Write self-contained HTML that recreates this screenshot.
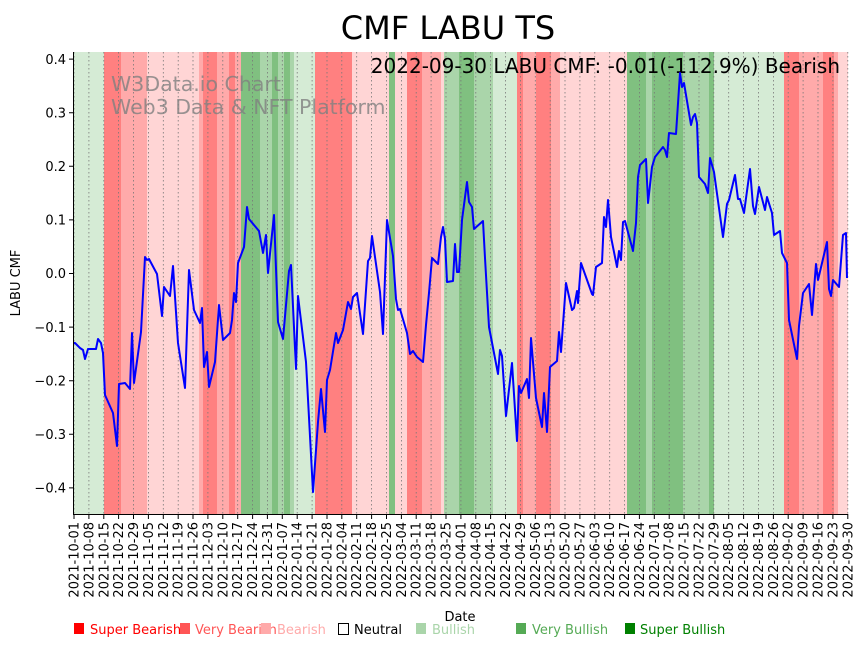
<!DOCTYPE html>
<html><head><meta charset="utf-8"><style>
html,body{margin:0;padding:0;background:#fff;}
svg{display:block;font-family:"DejaVu Sans","Liberation Sans",sans-serif;}
</style></head><body>
<svg width="864" height="646" viewBox="0 0 864 646" xmlns="http://www.w3.org/2000/svg">
<rect width="864" height="646" fill="#fff"/>
<text x="448" y="39" font-size="32" text-anchor="middle" fill="#000">CMF LABU TS</text>
<g>
<rect x="74" y="52" width="30" height="462" fill="#d5ebd5"/>
<rect x="104" y="52" width="17" height="462" fill="#ff8080"/>
<rect x="121" y="52" width="26" height="462" fill="#ffaaaa"/>
<rect x="147" y="52" width="52" height="462" fill="#ffd5d5"/>
<rect x="199" y="52" width="4" height="462" fill="#ffaaaa"/>
<rect x="203" y="52" width="14" height="462" fill="#ff8080"/>
<rect x="217" y="52" width="12" height="462" fill="#ffaaaa"/>
<rect x="229" y="52" width="6" height="462" fill="#ff8080"/>
<rect x="235" y="52" width="6" height="462" fill="#ffaaaa"/>
<rect x="241" y="52" width="19" height="462" fill="#80c080"/>
<rect x="260" y="52" width="12" height="462" fill="#aad5aa"/>
<rect x="272" y="52" width="6" height="462" fill="#80c080"/>
<rect x="278" y="52" width="6" height="462" fill="#aad5aa"/>
<rect x="284" y="52" width="6" height="462" fill="#80c080"/>
<rect x="290" y="52" width="4" height="462" fill="#aad5aa"/>
<rect x="294" y="52" width="21" height="462" fill="#d5ebd5"/>
<rect x="315" y="52" width="37" height="462" fill="#ff8080"/>
<rect x="352" y="52" width="37" height="462" fill="#ffd5d5"/>
<rect x="389" y="52" width="6" height="462" fill="#80c080"/>
<rect x="395" y="52" width="12" height="462" fill="#ffd5d5"/>
<rect x="407" y="52" width="15" height="462" fill="#ff8080"/>
<rect x="422" y="52" width="19" height="462" fill="#ffaaaa"/>
<rect x="441" y="52" width="3" height="462" fill="#ffd5d5"/>
<rect x="444" y="52" width="15" height="462" fill="#aad5aa"/>
<rect x="459" y="52" width="15" height="462" fill="#80c080"/>
<rect x="474" y="52" width="19" height="462" fill="#aad5aa"/>
<rect x="493" y="52" width="24" height="462" fill="#d5ebd5"/>
<rect x="517" y="52" width="6" height="462" fill="#ff8080"/>
<rect x="523" y="52" width="13" height="462" fill="#ffaaaa"/>
<rect x="536" y="52" width="15" height="462" fill="#ff8080"/>
<rect x="551" y="52" width="9" height="462" fill="#ffaaaa"/>
<rect x="560" y="52" width="67" height="462" fill="#ffd5d5"/>
<rect x="627" y="52" width="19" height="462" fill="#80c080"/>
<rect x="646" y="52" width="6" height="462" fill="#aad5aa"/>
<rect x="652" y="52" width="31" height="462" fill="#80c080"/>
<rect x="683" y="52" width="26" height="462" fill="#aad5aa"/>
<rect x="709" y="52" width="5" height="462" fill="#80c080"/>
<rect x="714" y="52" width="70" height="462" fill="#d5ebd5"/>
<rect x="784" y="52" width="15" height="462" fill="#ff8080"/>
<rect x="799" y="52" width="24" height="462" fill="#ffaaaa"/>
<rect x="823" y="52" width="11" height="462" fill="#ff8080"/>
<rect x="834" y="52" width="4" height="462" fill="#ffaaaa"/>
<rect x="838" y="52" width="10" height="462" fill="#ffd5d5"/>
</g>
<g stroke="#777" stroke-width="0.8" stroke-dasharray="1.5,2.5" fill="none">
<path d="M74.0 52V514M88.9 52V514M103.8 52V514M118.6 52V514M133.5 52V514M148.4 52V514M163.3 52V514M178.2 52V514M193.0 52V514M207.9 52V514M222.8 52V514M237.7 52V514M252.6 52V514M267.4 52V514M282.3 52V514M297.2 52V514M312.1 52V514M327.0 52V514M341.8 52V514M356.7 52V514M371.6 52V514M386.5 52V514M401.4 52V514M416.2 52V514M431.1 52V514M446.0 52V514M460.9 52V514M475.8 52V514M490.6 52V514M505.5 52V514M520.4 52V514M535.3 52V514M550.2 52V514M565.0 52V514M579.9 52V514M594.8 52V514M609.7 52V514M624.6 52V514M639.4 52V514M654.3 52V514M669.2 52V514M684.1 52V514M699.0 52V514M713.8 52V514M728.7 52V514M743.6 52V514M758.5 52V514M773.4 52V514M788.2 52V514M803.1 52V514M818.0 52V514M832.9 52V514M847.8 52V514"/>
</g>
<text x="111" y="91" font-size="20.5" fill="#808080" fill-opacity="0.8">W3Data.io Chart</text>
<text x="111" y="114" font-size="20.5" fill="#808080" fill-opacity="0.8">Web3 Data &amp; NFT Platform</text>
<text x="840" y="73" font-size="20" text-anchor="end" fill="#000">2022-09-30 LABU CMF: -0.01(-112.9%) Bearish</text>
<polyline fill="none" stroke="#0000ff" stroke-width="2" stroke-linejoin="round" points="74,343 75,343 80,348 83,350 85,359 88,349 96,349 98,339 101,343 103,353 105,395 113,413 117,446 119,384 125,383 130,389 132,333 134,383 141,332 145,257 147,260 149,259 157,274 162,316 164,287 170,296 173,266 178,343 185,388 189,270 194,310 200,323 202,308 204,367 207,352 209,387 215,362 219,305 223,340 230,333 232,320 234,293 236,302 238,263 244,247 247,207 249,219 259,231 263,253 266,235 268,273 274,215 278,322 283,339 289,271 291,265 296,369 298,296 306,362 313,492 318,422 321,389 325,432 327,380 330,370 336,333 338,343 343,330 348,302 351,309 353,297 357,293 363,334 368,261 370,258 372,236 380,292 383,334 387,220 393,256 396,299 398,310 400,309 407,333 410,354 413,351 417,357 423,362 426,325 429,293 432,258 438,264 441,237 443,227 445,239 447,282 453,281 455,244 457,272 459,272 462,220 467,182 469,202 472,207 474,229 483,221 485,258 489,327 494,353 498,374 500,350 502,356 506,416 512,363 517,441 519,386 521,393 527,379 529,398 531,338 536,398 542,427 544,393 547,432 550,367 557,361 559,332 561,352 566,283 572,310 574,308 577,291 578,303 581,263 592,294 593,295 596,267 602,263 604,217 606,227 608,200 611,237 617,267 619,251 621,260 623,222 625,221 633,251 636,223 638,177 640,165 646,159 648,203 652,167 655,157 663,147 665,150 667,157 669,133 676,134 680,73 682,87 684,83 691,125 693,117 695,114 697,123 699,177 705,184 708,193 710,158 714,172 723,237 727,204 729,200 735,175 738,199 740,199 744,213 750,169 753,206 755,214 759,187 765,210 767,197 772,213 774,235 780,231 782,253 787,263 789,320 797,359 799,326 803,293 809,284 812,315 816,264 818,280 827,242 829,289 831,296 833,280 839,287 843,235 846,233 847,278"/>
<g stroke="#000" stroke-width="1" fill="none">
<path d="M73.5 52V514.5H848"/>
<path d="M69 59.1H73.5M69 112.7H73.5M69 166.3H73.5M69 219.9H73.5M69 273.5H73.5M69 327.1H73.5M69 380.7H73.5M69 434.3H73.5M69 487.9H73.5"/>
<path d="M74.0 514V519M88.9 514V519M103.8 514V519M118.6 514V519M133.5 514V519M148.4 514V519M163.3 514V519M178.2 514V519M193.0 514V519M207.9 514V519M222.8 514V519M237.7 514V519M252.6 514V519M267.4 514V519M282.3 514V519M297.2 514V519M312.1 514V519M327.0 514V519M341.8 514V519M356.7 514V519M371.6 514V519M386.5 514V519M401.4 514V519M416.2 514V519M431.1 514V519M446.0 514V519M460.9 514V519M475.8 514V519M490.6 514V519M505.5 514V519M520.4 514V519M535.3 514V519M550.2 514V519M565.0 514V519M579.9 514V519M594.8 514V519M609.7 514V519M624.6 514V519M639.4 514V519M654.3 514V519M669.2 514V519M684.1 514V519M699.0 514V519M713.8 514V519M728.7 514V519M743.6 514V519M758.5 514V519M773.4 514V519M788.2 514V519M803.1 514V519M818.0 514V519M832.9 514V519M847.8 514V519"/>
</g>
<g font-size="13" text-anchor="end" fill="#000">
<text x="66" y="64">0.4</text><text x="66" y="117.5">0.3</text><text x="66" y="171">0.2</text><text x="66" y="224.5">0.1</text><text x="66" y="278">0.0</text><text x="66" y="332">−0.1</text><text x="66" y="385.5">−0.2</text><text x="66" y="439">−0.3</text><text x="66" y="492.5">−0.4</text>
</g>
<text transform="translate(20,283) rotate(-90)" font-size="13" text-anchor="middle">LABU CMF</text>
<g font-size="13" text-anchor="end" fill="#000">
<text transform="translate(78.5,522) rotate(-90)">2021-10-01</text>
<text transform="translate(93.4,522) rotate(-90)">2021-10-08</text>
<text transform="translate(108.3,522) rotate(-90)">2021-10-15</text>
<text transform="translate(123.1,522) rotate(-90)">2021-10-22</text>
<text transform="translate(138.0,522) rotate(-90)">2021-10-29</text>
<text transform="translate(152.9,522) rotate(-90)">2021-11-05</text>
<text transform="translate(167.8,522) rotate(-90)">2021-11-12</text>
<text transform="translate(182.7,522) rotate(-90)">2021-11-19</text>
<text transform="translate(197.5,522) rotate(-90)">2021-11-26</text>
<text transform="translate(212.4,522) rotate(-90)">2021-12-03</text>
<text transform="translate(227.3,522) rotate(-90)">2021-12-10</text>
<text transform="translate(242.2,522) rotate(-90)">2021-12-17</text>
<text transform="translate(257.1,522) rotate(-90)">2021-12-24</text>
<text transform="translate(271.9,522) rotate(-90)">2021-12-31</text>
<text transform="translate(286.8,522) rotate(-90)">2022-01-07</text>
<text transform="translate(301.7,522) rotate(-90)">2022-01-14</text>
<text transform="translate(316.6,522) rotate(-90)">2022-01-21</text>
<text transform="translate(331.5,522) rotate(-90)">2022-01-28</text>
<text transform="translate(346.3,522) rotate(-90)">2022-02-04</text>
<text transform="translate(361.2,522) rotate(-90)">2022-02-11</text>
<text transform="translate(376.1,522) rotate(-90)">2022-02-18</text>
<text transform="translate(391.0,522) rotate(-90)">2022-02-25</text>
<text transform="translate(405.9,522) rotate(-90)">2022-03-04</text>
<text transform="translate(420.7,522) rotate(-90)">2022-03-11</text>
<text transform="translate(435.6,522) rotate(-90)">2022-03-18</text>
<text transform="translate(450.5,522) rotate(-90)">2022-03-25</text>
<text transform="translate(465.4,522) rotate(-90)">2022-04-01</text>
<text transform="translate(480.3,522) rotate(-90)">2022-04-08</text>
<text transform="translate(495.1,522) rotate(-90)">2022-04-15</text>
<text transform="translate(510.0,522) rotate(-90)">2022-04-22</text>
<text transform="translate(524.9,522) rotate(-90)">2022-04-29</text>
<text transform="translate(539.8,522) rotate(-90)">2022-05-06</text>
<text transform="translate(554.7,522) rotate(-90)">2022-05-13</text>
<text transform="translate(569.5,522) rotate(-90)">2022-05-20</text>
<text transform="translate(584.4,522) rotate(-90)">2022-05-27</text>
<text transform="translate(599.3,522) rotate(-90)">2022-06-03</text>
<text transform="translate(614.2,522) rotate(-90)">2022-06-10</text>
<text transform="translate(629.1,522) rotate(-90)">2022-06-17</text>
<text transform="translate(643.9,522) rotate(-90)">2022-06-24</text>
<text transform="translate(658.8,522) rotate(-90)">2022-07-01</text>
<text transform="translate(673.7,522) rotate(-90)">2022-07-08</text>
<text transform="translate(688.6,522) rotate(-90)">2022-07-15</text>
<text transform="translate(703.5,522) rotate(-90)">2022-07-22</text>
<text transform="translate(718.3,522) rotate(-90)">2022-07-29</text>
<text transform="translate(733.2,522) rotate(-90)">2022-08-05</text>
<text transform="translate(748.1,522) rotate(-90)">2022-08-12</text>
<text transform="translate(763.0,522) rotate(-90)">2022-08-19</text>
<text transform="translate(777.9,522) rotate(-90)">2022-08-26</text>
<text transform="translate(792.7,522) rotate(-90)">2022-09-02</text>
<text transform="translate(807.6,522) rotate(-90)">2022-09-09</text>
<text transform="translate(822.5,522) rotate(-90)">2022-09-16</text>
<text transform="translate(837.4,522) rotate(-90)">2022-09-23</text>
<text transform="translate(852.3,522) rotate(-90)">2022-09-30</text>
</g>
<text x="460" y="621" font-size="13" text-anchor="middle">Date</text>
<g font-size="13">
<rect x="74" y="623" width="10" height="11" fill="#ff0000"/><text x="90" y="634" fill="#ff0000">Super Bearish</text>
<rect x="180" y="623" width="10" height="11" fill="#ff5555"/><text x="195" y="634" fill="#ff5555">Very Bearish</text>
<rect x="261" y="623" width="10" height="11" fill="#ffaaaa"/><text x="277" y="634" fill="#ffaaaa">Bearish</text>
<rect x="338.5" y="623.5" width="10" height="11" fill="none" stroke="#000"/><text x="354" y="634" fill="#000">Neutral</text>
<rect x="416" y="623" width="10" height="11" fill="#aad5aa"/><text x="432" y="634" fill="#aad5aa">Bullish</text>
<rect x="516" y="623" width="10" height="11" fill="#55aa55"/><text x="532" y="634" fill="#55aa55">Very Bullish</text>
<rect x="625" y="623" width="10" height="11" fill="#008000"/><text x="640" y="634" fill="#008000">Super Bullish</text>
</g>
</svg>
</body></html>
